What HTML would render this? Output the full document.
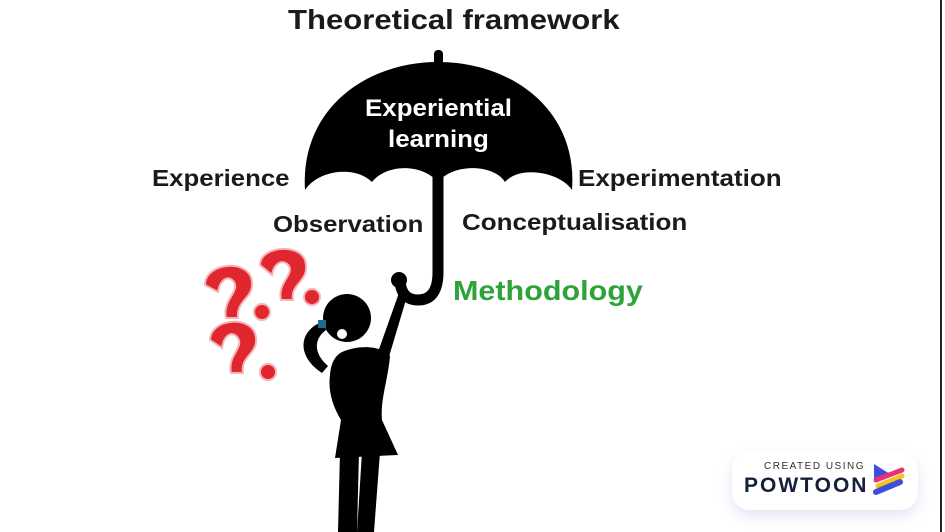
<!DOCTYPE html>
<html><head><style>
html,body{margin:0;padding:0;background:#fff;}
#c{position:relative;width:945px;height:532px;overflow:hidden;background:#fff;font-family:"Liberation Sans",sans-serif;font-weight:bold;}
.t{position:absolute;white-space:nowrap;color:#1a1a1a;transform-origin:0 0;}
</style></head><body><div id="c">
<svg width="945" height="532" style="position:absolute;left:0;top:0">
 <rect x="434" y="50" width="9" height="20" rx="4" fill="#000"/>
 <path d="M305,190 C300,110 365,62 438,62 C512,62 578,110 572,190 C560,172 520,165 505,182 C495,165 455,162 438,182 C420,162 385,165 372,182 C355,165 318,170 305,190 Z" fill="#000"/>
 <path d="M438,175 L438,272 Q438,300 418,300 Q402,300 400,282" fill="none" stroke="#000" stroke-width="11" stroke-linecap="round"/>
 <circle cx="399" cy="280" r="8" fill="#000"/>
 <circle cx="347" cy="318" r="24" fill="#000"/>
 <circle cx="342" cy="334" r="5" fill="#fff"/>
 <path d="M322,322 C300,330 295,355 322,373 L328,366 C312,352 315,338 326,330 Z" fill="#000"/>
 <rect x="318" y="320" width="8" height="8" fill="#1b6d8e"/>
 <path d="M378,352 L400,290 L408,293 L388,360 Z" fill="#000"/>
 <path d="M342,352 C360,344 382,346 390,356 C388,380 380,400 382,420 L398,455 L335,458 L341,420 C332,405 328,390 330,375 C331,362 336,355 342,352 Z" fill="#000"/>
 <path d="M338,365 C326,385 328,400 350,412 L352,400 C338,392 338,382 346,370 Z" fill="#000"/>
 <path d="M340,452 L359,452 L357,532 L338,532 Z" fill="#000"/>
 <path d="M362,452 L380,452 L374,532 L357,532 Z" fill="#000"/>
 <g fill="#e0262e" stroke="#f3b5b5" stroke-width="2">
  <path d="M205,285 C205,262 250,258 252,282 C254,298 236,300 238,318 L226,318 C222,300 240,292 234,282 C228,274 220,280 218,292 Z"/>
  <circle cx="262" cy="312" r="8"/>
  <path d="M260,265 C260,245 305,242 306,265 C308,282 290,284 293,300 L281,300 C277,283 294,275 289,266 C283,258 274,263 272,275 Z"/>
  <circle cx="312" cy="297" r="8"/>
  <path d="M210,340 C210,318 254,314 256,338 C258,354 240,356 243,373 L231,373 C227,356 244,348 238,338 C232,330 224,335 222,348 Z"/>
  <circle cx="268" cy="372" r="8"/>
 </g>
 <line x1="941" y1="0" x2="941" y2="532" stroke="#222" stroke-width="2"/>
</svg>
<div class="t" style="left:288px;top:4px;font-size:28px;transform:scaleX(1.11);">Theoretical framework</div>
<div class="t" style="left:365px;top:93px;font-size:24px;color:#fff;line-height:31px;transform:scaleX(1.08);">Experiential</div>
<div class="t" style="left:388px;top:124px;font-size:24px;color:#fff;line-height:31px;transform:scaleX(1.08);">learning</div>
<div class="t" style="left:152px;top:165px;font-size:23px;transform:scaleX(1.12);">Experience</div>
<div class="t" style="left:578px;top:165px;font-size:23px;transform:scaleX(1.13);">Experimentation</div>
<div class="t" style="left:273px;top:211px;font-size:23px;transform:scaleX(1.12);">Observation</div>
<div class="t" style="left:462px;top:209px;font-size:23px;transform:scaleX(1.13);">Conceptualisation</div>
<div class="t" style="left:453px;top:275px;font-size:28px;color:#2ea33a;transform:scaleX(1.09);">Methodology</div>
<div style="position:absolute;left:732px;top:452px;width:186px;height:58px;border-radius:18px;background:#fff;box-shadow:0 6px 14px rgba(120,120,200,0.2);"></div>
<div class="t" style="left:764px;top:461px;font-size:10px;font-weight:normal;letter-spacing:1.5px;color:#333;">CREATED USING</div>
<div class="t" style="left:744px;top:474px;font-size:21px;letter-spacing:2px;color:#14213d;">POWTOON</div>
<svg width="40" height="40" style="position:absolute;left:870px;top:460px">
 <path d="M4,4 L20,14 L4,22 Z" fill="#3b4fd8"/>
 <line x1="6" y1="20" x2="32" y2="10" stroke="#e8317a" stroke-width="5" stroke-linecap="round"/>
 <line x1="8" y1="26" x2="32" y2="16" stroke="#f6c21c" stroke-width="5" stroke-linecap="round"/>
 <line x1="6" y1="32" x2="30" y2="22" stroke="#3b4fd8" stroke-width="6" stroke-linecap="round"/>
</svg>
</div></body></html>
